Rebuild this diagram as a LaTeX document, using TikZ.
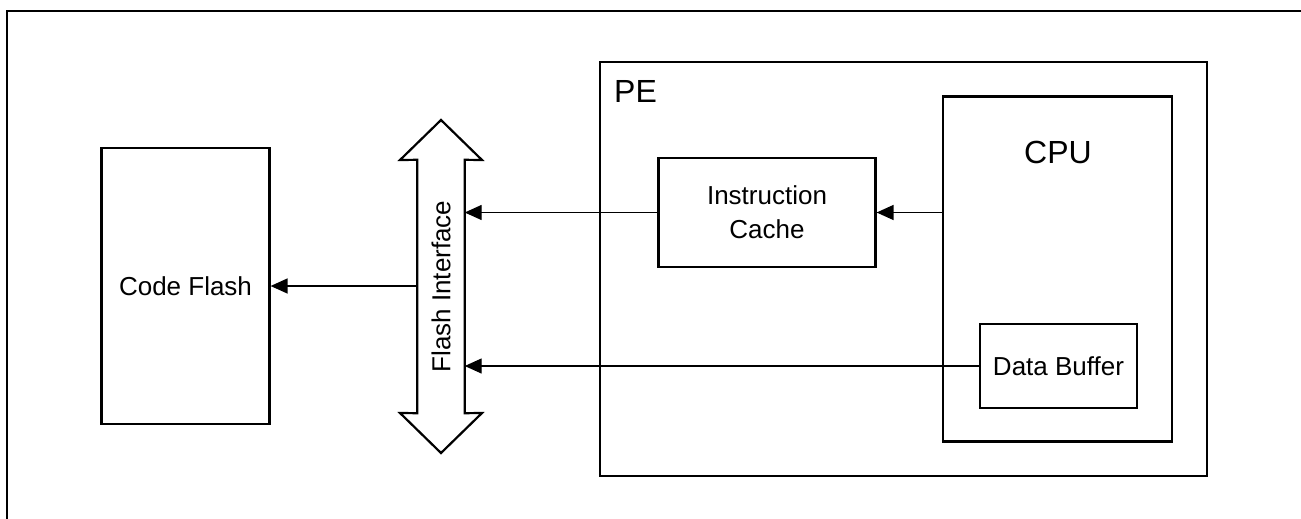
\documentclass[tikz,border=0pt]{standalone}
\usepackage{fontspec}
\setmainfont{Liberation Sans}
\usetikzlibrary{arrows.meta}
\begin{document}
\begin{tikzpicture}[x=1pt,y=-1pt,
  box/.style={draw,line width=2.2pt,inner sep=0pt,align=center,font=\fontsize{26}{34}\selectfont},
  big/.style={inner sep=0pt,font=\fontsize{32}{38}\selectfont},
  arr/.style={line width=1.4pt,-{Triangle[length=17pt,width=15pt]}},
  frame/.style={line width=2.2pt}]
\useasboundingbox (0,0) rectangle (1301,519);
% outer frame (top and left edges)
\coordinate (ftl) at (7,11);
\draw[frame] (ftl |- 0,519) -- (ftl) -- (1301,11);
% Code Flash
\node[box,minimum width=168pt,minimum height=276pt] (flash) at (185.5,286) {Code Flash};
% PE
\node[box,minimum width=607pt,minimum height=414pt] (pe) at (903.5,269) {};
\node[big,anchor=base west] (pelbl) at (614,102) {PE};
% CPU
\node[box,minimum width=229pt,minimum height=345pt] (cpu) at (1057.5,269) {};
\node[big] (cpulbl) at (1058,152) {CPU};
% Instruction Cache
\node[box,minimum width=217pt,minimum height=109pt] (ic) at (767,212.5) {Instruction\\Cache};
% Data Buffer
\node[box,minimum width=157pt,minimum height=84pt] (db) at (1058.5,366) {Data Buffer};
% Flash Interface double arrow
\node[inner sep=0pt,minimum width=47pt,minimum height=253pt] (ifc) at (441,286.5) {};
\draw[line width=2.2pt,line join=miter]
  (441,120) -- (482,160) -- (ifc.north east) -- (ifc.south east) -- (482,413)
  -- (441,453) -- (400,413) -- (ifc.south west) -- (ifc.north west) -- (400,160) -- cycle;
\node[rotate=90,font=\fontsize{26}{31}\selectfont,inner sep=0pt] (ifclbl) at (ifc.center) {Flash Interface};
% connectors
\draw[arr] (ifc.west |- flash.east) -- (flash.east);
\draw[arr] (cpu.west |- ic.east) -- (ic.east);
\draw[arr] (ic.west) -- (ic.west -| ifc.east);
\draw[arr] (db.west) -- (db.west -| ifc.east);
\end{tikzpicture}
\end{document}
